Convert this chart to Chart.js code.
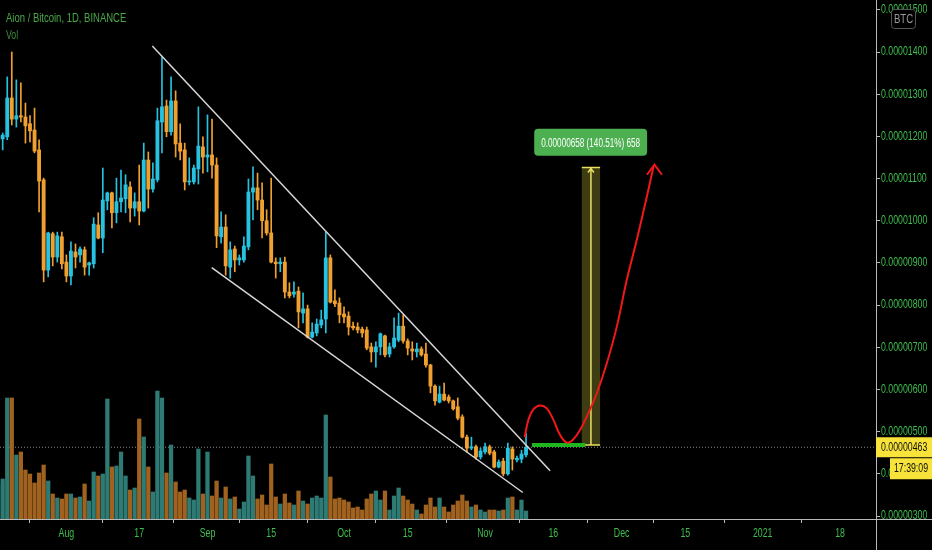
<!DOCTYPE html>
<html lang="en">
  <head>
    <meta charset="UTF-8" />
    <title>Aion / Bitcoin, 1D, BINANCE</title>
    <script src="https://cdn.jsdelivr.net/npm/chart.js@4.4.0/dist/chart.umd.min.js"></script>
    <style>
      html,
      body {
        margin: 0;
        padding: 0;
        background: #000;
        overflow: hidden;
      }
      #wrap {
        position: relative;
        width: 932px;
        height: 550px;
      }
    </style>
  </head>

  <body>
    <div id="wrap"><canvas id="chart" width="932" height="550"></canvas></div>
    <script>
      // one candle per day, day 0 = 2020-07-17, prices in satoshi (1e-8 BTC)
      const opens = [
        1187, 1194, 1199, 1291, 1241, 1249, 1246, 1230, 1215, 1168,
        1097, 883, 969, 914, 962, 902, 869, 926, 919, 931,
        895, 898, 990, 959, 1047, 1066, 1019, 1045, 1052, 1080,
        1030, 1045, 1023, 1144, 1075, 1097, 1234, 1272, 1211, 1284,
        1184, 1168, 1092, 1092, 1123, 1175, 1151, 1156, 1132, 962,
        985, 890, 933, 907, 907, 938, 1068, 1078, 1049, 1000,
        971, 902, 898, 902, 831, 826, 833, 781, 791, 724,
        734, 753, 767, 912, 810, 805, 779, 774, 750, 748,
        743, 741, 701, 689, 701, 727, 684, 701, 717, 750,
        715, 696, 689, 696, 684, 658, 608, 570, 589, 582,
        573, 559, 535, 487, 461, 464, 440, 452, 464, 452,
        416, 430, 400, 459, 433, 435, 445
      ];
      const highs = [
        1210, 1208, 1341, 1400, 1334, 1327, 1279, 1249, 1267, 1192,
        1101, 973, 973, 973, 973, 919, 950, 945, 938, 938,
        902, 1007, 1019, 1125, 1068, 1068, 1101, 1120, 1109, 1092,
        1066, 1132, 1184, 1163, 1137, 1267, 1388, 1286, 1341, 1308,
        1230, 1184, 1149, 1132, 1270, 1199, 1251, 1241, 1149, 1021,
        1014, 950, 940, 919, 962, 1099, 1128, 1113, 1090, 1026,
        1101, 912, 912, 914, 853, 855, 843, 829, 800, 758,
        767, 788, 973, 919, 836, 817, 796, 784, 760, 758,
        748, 748, 710, 713, 734, 729, 710, 770, 781, 777,
        720, 713, 710, 701, 710, 660, 611, 608, 615, 587,
        575, 580, 540, 492, 487, 468, 461, 473, 468, 456,
        433, 437, 473, 464, 442, 456, 497
      ];
      const lows = [
        1170, 1168, 1192, 1227, 1222, 1234, 1184, 1187, 1161, 1021,
        855, 867, 893, 902, 886, 855, 848, 888, 902, 871,
        871, 888, 957, 924, 1026, 983, 995, 1021, 1019, 997,
        1011, 990, 1021, 1030, 1068, 1092, 1161, 1199, 1203, 1151,
        1144, 1073, 1085, 1087, 1087, 1113, 1116, 1101, 936, 947,
        871, 864, 879, 895, 902, 931, 1002, 1026, 959, 966,
        900, 864, 879, 817, 817, 819, 746, 758, 722, 722,
        727, 746, 734, 805, 796, 758, 758, 729, 741, 734,
        724, 694, 665, 653, 682, 677, 677, 698, 713, 710,
        682, 670, 677, 679, 653, 592, 563, 568, 573, 568,
        551, 528, 485, 452, 457, 435, 435, 447, 445, 414,
        414, 395, 397, 409, 428, 426, 440
      ];
      const closes = [
        1201, 1203, 1291, 1241, 1249, 1246, 1225, 1213, 1165, 1094,
        883, 971, 914, 964, 898, 869, 928, 914, 933, 890,
        900, 992, 959, 1049, 1066, 1019, 1045, 1054, 1085, 1030,
        1045, 1023, 1144, 1075, 1099, 1237, 1270, 1211, 1284, 1182,
        1165, 1092, 1094, 1125, 1177, 1151, 1156, 1132, 964, 985,
        893, 931, 907, 912, 940, 1068, 1078, 1049, 1000, 971,
        902, 898, 902, 831, 822, 831, 784, 791, 724, 736,
        755, 765, 912, 807, 803, 777, 772, 748, 746, 741,
        734, 698, 689, 701, 732, 682, 701, 722, 750, 715,
        698, 691, 696, 682, 658, 608, 573, 589, 575, 573,
        554, 532, 487, 461, 464, 440, 454, 464, 449, 416,
        428, 400, 461, 435, 437, 447, 463
      ];
      const volumes = [
        34, 40, 121, 121, 64, 67, 49, 45, 36, 46,
        54, 38, 25, 21, 20, 25, 25, 21, 22, 35,
        18, 47, 43, 45, 120, 52, 53, 67, 43, 29,
        31, 100, 82, 52, 27, 128, 121, 46, 74, 37,
        27, 29, 21, 19, 70, 25, 67, 23, 38, 21,
        32, 20, 22, 10, 17, 63, 43, 20, 24, 14,
        55, 22, 15, 25, 16, 14, 28, 18, 15, 21,
        23, 21, 104, 42, 20, 21, 19, 17, 11, 12,
        9, 20, 25, 28, 19, 28, 9, 23, 31, 23,
        19, 15, 9, 5, 14, 21, 12, 21, 12, 7,
        14, 18, 24, 18, 12, 14, 9, 7, 9, 9,
        8, 9, 21, 22, 9, 19, 8
      ];

      const tickDays = [15, 31, 46, 60, 76, 90, 107, 122, 137, 151, 168, 185];
      const tickLabels = ["Aug", "17", "Sep", "15", "Oct", "15", "Nov", "16", "Dec", "15", "2021", "18"];
      const priceTicks = [300, 400, 500, 600, 700, 800, 900, 1000, 1100, 1200, 1300, 1400, 1500];

      // drawings
      const upperDays = [33.88, 121.29];
      const upperPrices = [1414.5, 407.4];
      const lowerDays = [46.93, 115.29];
      const lowerPrices = [888.8, 355.7];
      const curveDays = [115.7, 116.52, 117.62, 119.09, 120.56, 122.01, 123.48, 124.96, 126.41,
        127.88, 129.7, 131.55, 133.75, 135.95, 138.14, 140.34, 142.54, 144.0];
      const curvePrices = [487, 528, 553, 562, 555, 528, 492, 474, 482,
        504, 544, 591, 662, 749, 860, 955, 1057, 1128];
      const measureDays = [128.25, 132.27];
      const measureBase = 468.3;
      const measureRise = 658;
      const baseLineDays = [117.3, 129.0];
      const labelAt = [130.2, 1186];
      const lastPrice = 463;
      const countdown = "17:39:09";

      const FONT = '"Liberation Sans", Arial, sans-serif';
      const GREEN = "#3fbf4f";
      const AXIS = "#b8b8b8";
      const UP = "#26c2e0", DOWN = "#f0a030";
      const VUP = "#2e7a74", VDOWN = "#a0621e";
      const SQUEEZE = 0.73; // condensed look of the chart's UI font

      const fmt = v => (v / 1e8).toFixed(8);
      const days = opens.map((_, i) => i);
      const isUp = days.map(i => closes[i] >= opens[i]);

      function narrowText(ctx, text, x, y, align, size, color, sx) {
        ctx.save();
        ctx.font = size + "px " + FONT;
        ctx.fillStyle = color;
        ctx.textAlign = align;
        ctx.textBaseline = "middle";
        ctx.translate(x, y);
        ctx.scale(sx || SQUEEZE, 1);
        ctx.fillText(text, 0, 0);
        ctx.restore();
      }

      const overlay = {
        id: "overlay",
        beforeDatasetsDraw(chart) {
          const { ctx, chartArea: a, scales: { x, y } } = chart;
          ctx.save();
          // last price line
          const py = y.getPixelForValue(lastPrice);
          ctx.strokeStyle = "#8a8a8a";
          ctx.lineWidth = 1;
          ctx.setLineDash([1, 2]);
          ctx.beginPath();
          ctx.moveTo(a.left, py);
          ctx.lineTo(a.right, py);
          ctx.stroke();
          ctx.setLineDash([]);

          // price range box
          const x0 = x.getPixelForValue(measureDays[0]);
          const x1 = x.getPixelForValue(measureDays[1]);
          const yb = y.getPixelForValue(measureBase);
          const yt = y.getPixelForValue(measureBase + measureRise);
          ctx.fillStyle = "rgba(240, 230, 70, 0.26)";
          ctx.fillRect(x0, yt, x1 - x0, yb - yt);
          ctx.strokeStyle = "#e8e060";
          ctx.lineWidth = 1.5;
          ctx.beginPath();
          ctx.moveTo(x0, yt);
          ctx.lineTo(x1, yt);
          ctx.moveTo(x0, yb);
          ctx.lineTo(x1, yb);
          const xc = (x0 + x1) / 2;
          ctx.moveTo(xc, yb);
          ctx.lineTo(xc, yt + 1);
          ctx.moveTo(xc - 3, yt + 5);
          ctx.lineTo(xc, yt + 1);
          ctx.lineTo(xc + 3, yt + 5);
          ctx.stroke();

          // base line
          ctx.strokeStyle = "#1fb51f";
          ctx.lineWidth = 4;
          ctx.beginPath();
          ctx.moveTo(x.getPixelForValue(baseLineDays[0]), yb);
          ctx.lineTo(x.getPixelForValue(baseLineDays[1]), yb);
          ctx.stroke();
          ctx.restore();
        },
        afterDatasetsDraw(chart) {
          const { ctx, scales: { x, y } } = chart;
          ctx.save();
          // red arrow head
          const n = curveDays.length - 1;
          const tx = x.getPixelForValue(curveDays[n]) + 1;
          const ty = y.getPixelForValue(curvePrices[n]) - 2;
          ctx.strokeStyle = "#f01818";
          ctx.lineWidth = 2;
          ctx.beginPath();
          ctx.moveTo(tx - 7.5, ty + 10);
          ctx.lineTo(tx, ty);
          ctx.lineTo(tx + 7.5, ty + 10);
          ctx.stroke();

          // measure label
          const text = fmt(measureRise) + " (" + (measureRise / measureBase * 100).toFixed(2) + "%) " + measureRise;
          ctx.font = "12px " + FONT;
          const sx = 0.68;
          const w = ctx.measureText(text).width * sx + 14;
          const h = 27;
          const cx = x.getPixelForValue(labelAt[0]);
          const cy = y.getPixelForValue(labelAt[1]);
          ctx.fillStyle = "#4caf50";
          ctx.beginPath();
          ctx.roundRect(cx - w / 2, cy - h / 2, w, h, 4);
          ctx.fill();
          ctx.restore();
          narrowText(ctx, text, cx, cy + 1, "center", 12, "#ffffff", sx);
        },
        afterDraw(chart) {
          const { ctx, chartArea: a, scales: { x, y } } = chart;
          ctx.save();
          // axis lines run on to the canvas edges
          ctx.strokeStyle = AXIS;
          ctx.lineWidth = 1;
          ctx.beginPath();
          ctx.moveTo(a.right + 0.5, a.bottom);
          ctx.lineTo(a.right + 0.5, chart.height);
          ctx.moveTo(a.right, a.bottom + 0.5);
          ctx.lineTo(chart.width, a.bottom + 0.5);
          ctx.stroke();
          ctx.restore();

          // axis labels
          priceTicks.forEach(v => narrowText(ctx, fmt(v), a.right + 5, y.getPixelForValue(v), "left", 12, GREEN));
          tickDays.forEach((d, i) => narrowText(ctx, tickLabels[i], x.getPixelForValue(d), a.bottom + 15, "center", 12, GREEN));

          // legend text
          narrowText(ctx, "Aion / Bitcoin, 1D, BINANCE", 6, 18, "left", 13, "#4aa84a");
          narrowText(ctx, "Vol", 6, 36, "left", 12, "#3e8c3e");

          // currency badge
          ctx.save();
          ctx.fillStyle = "#000";
          ctx.strokeStyle = "#555";
          ctx.beginPath();
          ctx.roundRect(891.5, 9.5, 24, 19, 3);
          ctx.fill();
          ctx.stroke();
          ctx.restore();
          narrowText(ctx, "BTC", 903.5, 19.5, "center", 12, "#9a9a9a", 0.8);

          // last price tag + countdown
          const py = y.getPixelForValue(lastPrice);
          ctx.save();
          ctx.fillStyle = "#f7e33a";
          ctx.fillRect(a.right, py - 10, chart.width - a.right, 20);
          ctx.fillRect(890, py + 11, chart.width - 890, 21);
          ctx.restore();
          narrowText(ctx, fmt(lastPrice), a.right + 5, py + 0.5, "left", 12, "#111");
          narrowText(ctx, countdown, 911, py + 21.5, "center", 12, "#111");
        }
      };

      Chart.defaults.font.family = FONT;

      new Chart(document.getElementById("chart"), {
        type: "bar",
        data: {
          datasets: [
            {
              label: "Vol",
              data: days.map(i => ({ x: i, y: volumes[i] })),
              yAxisID: "yv",
              backgroundColor: days.map(i => (isUp[i] ? VUP : VDOWN)),
              barThickness: 3.6,
              grouped: false,
              order: 5
            },
            {
              label: "wick",
              data: days.map(i => ({ x: i, y: [lows[i], highs[i]] })),
              backgroundColor: days.map(i => (isUp[i] ? UP : DOWN)),
              barThickness: 1,
              grouped: false,
              order: 3
            },
            {
              label: "body",
              data: days.map(i => ({ x: i, y: [opens[i], closes[i]] })),
              backgroundColor: days.map(i => (isUp[i] ? UP : DOWN)),
              barThickness: 3.2,
              minBarLength: 1,
              grouped: false,
              order: 2
            },
            {
              type: "line",
              label: "upper",
              data: upperDays.map((d, i) => ({ x: d, y: upperPrices[i] })),
              borderColor: "#d8d8d8",
              borderWidth: 1.5,
              pointRadius: 0,
              order: 1
            },
            {
              type: "line",
              label: "lower",
              data: lowerDays.map((d, i) => ({ x: d, y: lowerPrices[i] })),
              borderColor: "#d8d8d8",
              borderWidth: 1.5,
              pointRadius: 0,
              order: 1
            },
            {
              type: "line",
              label: "path",
              data: curveDays.map((d, i) => ({ x: d, y: curvePrices[i] })),
              borderColor: "#f01818",
              borderWidth: 2,
              pointRadius: 0,
              tension: 0.4,
              order: 0
            }
          ]
        },
        options: {
          responsive: false,
          animation: false,
          events: [],
          layout: { padding: 0 },
          plugins: { legend: { display: false }, tooltip: { enabled: false } },
          scales: {
            x: {
              type: "linear",
              min: 0.41,
              max: 192.9,
              offset: false,
              afterBuildTicks: s => {
                s.ticks = tickDays.map(v => ({ value: v }));
              },
              afterFit: s => {
                s.height = 31;
              },
              ticks: { display: false },
              grid: { drawOnChartArea: false, tickLength: 4, color: AXIS },
              border: { color: AXIS }
            },
            y: {
              position: "right",
              min: 292.9,
              max: 1523.3,
              afterBuildTicks: s => {
                s.ticks = priceTicks.map(v => ({ value: v }));
              },
              afterFit: s => {
                s.width = 56;
              },
              ticks: { display: false },
              grid: { drawOnChartArea: false, tickLength: 4, color: AXIS },
              border: { color: AXIS }
            },
            yv: {
              display: false,
              min: 0,
              max: 519
            }
          }
        },
        plugins: [overlay]
      });
    </script>
  </body>
</html>
